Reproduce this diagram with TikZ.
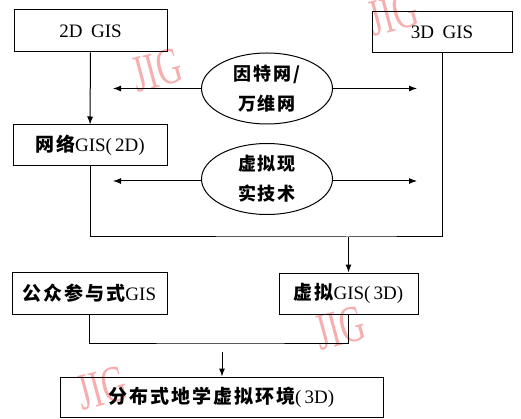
\documentclass[tikz,border=0pt]{standalone}
\usepackage{fontspec}
\setmainfont{Liberation Serif}
\newfontfamily\cjk[LetterSpace=10]{Noto Sans CJK SC}
\usetikzlibrary{arrows.meta, shapes.geometric}
\definecolor{wmpink}{HTML}{F7AEAE}
\newcommand{\zh}[1]{{\cjk\bfseries #1}}

\begin{document}
\begin{tikzpicture}[x=1pt, y=-1pt,
    box/.style={draw, line width=1pt, inner sep=0pt, font=\fontsize{19}{20}\selectfont},
    oval/.style={ellipse, draw, line width=1pt, minimum width=131pt, minimum height=71pt,
                 inner sep=0pt, align=center, font=\fontsize{18}{30}\selectfont\cjk\bfseries},
    link/.style={line width=1pt},
    arr/.style={link, -{Latex[length=8pt, width=6pt]}},
    watermark/.style={text=wmpink, font=\fontsize{40}{40}\selectfont, rotate=15, xscale=0.85, yscale=1.3}]

    \useasboundingbox (0,0) rectangle (521,419);

    % Watermarks of the journal
    \node[watermark] (wma) at (157,70) {JIG};
    \node[watermark] (wmb) at (393,14) {JIG};
    \node[watermark] (wmc) at (340,328) {JIG};
    \node[watermark] (wmd) at (102,388) {JIG};

    % Draw the boxes
    \node[box, minimum width=153pt, minimum height=42pt] (gis2d) at (90.5,31) {2D\hspace{0.45em}GIS};
    \node[box, minimum width=140pt, minimum height=41pt] (gis3d) at (442,32.5) {3D\hspace{0.45em}GIS};
    \node[box, minimum width=154pt, minimum height=41pt] (webgis) at (90,145.5) {\zh{网络}GIS(\,2D)};
    \node[box, minimum width=155pt, minimum height=42pt] (public) at (89.5,293) {\zh{公众参与式}GIS};
    \node[box, minimum width=139pt, minimum height=41pt] (vgis) at (348.5,293.5) {\zh{虚拟}GIS(\,3D)};
    \node[box, minimum width=323pt, minimum height=40pt] (dgve) at (221.5,397) {\zh{分布式地学虚拟环境}(\,3D)};

    % Draw the two ellipses
    \node[oval] (inet) at (267,88.5) {因特网/\\万维网};
    \node[oval] (vrtech) at (267,179) {虚拟现\\实技术};

    % Free ends of the side arrows and the joints
    \coordinate (inetl) at (113,88.5);
    \coordinate (inetr) at (417,88.5);
    \coordinate (vrl) at (113,181);
    \coordinate (vrr) at (417,181);
    \coordinate (joina) at (348.5,237);
    \coordinate (joinb) at (222,343);
    \coordinate (startb) at (222,352);

    % Draw arrows out of the ellipses
    \draw[arr] (inet.west |- inetl) -- (inetl);
    \draw[arr] (inet.east |- inetr) -- (inetr);
    \draw[arr] (vrtech.west |- vrl) -- (vrl);
    \draw[arr] (vrtech.east |- vrr) -- (vrr);

    % Draw the flow lines
    \draw[arr] (gis2d) -- (webgis);
    \draw[link] (webgis.south) |- (joina) -| (gis3d.south);
    \draw[arr] (joina) -- (vgis.north);
    \draw[link] (public.south) |- (joinb) -| (vgis.south);
    \draw[arr] (startb) -- (startb |- dgve.north);

\end{tikzpicture}
\end{document}
